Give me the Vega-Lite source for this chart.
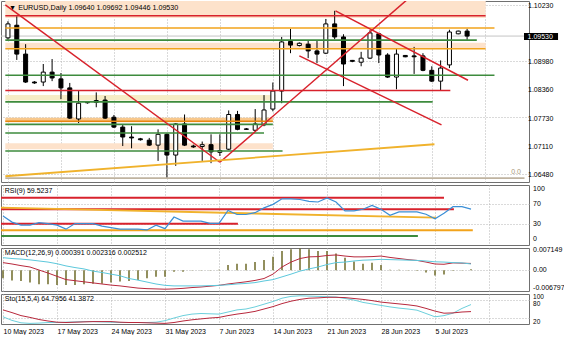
{
"$schema":"https://vega.github.io/schema/vega-lite/v6.json",
"background":"white",
"padding":0,
"spacing":3,
"bounds":"flush",
"config":{"view":{"stroke":"#707070","strokeWidth":1},"axis":{"labelFont":"Liberation Sans","labelFontSize":7,"labelColor":"#000000","gridColor":"#b4b4b4","gridDash":[1,2],"gridWidth":1},"text":{"font":"Liberation Sans","fontSize":7}},
"datasets":{
"candles":[
{"i":0,"o":1.0949,"h":1.0986,"l":1.0942,"c":1.0980},
{"i":1,"o":1.0977,"h":1.0997,"l":1.0900,"c":1.0913},
{"i":2,"o":1.0913,"h":1.0935,"l":1.0849,"c":1.0851},
{"i":3,"o":1.0851,"h":1.0853,"l":1.0847,"c":1.0849},
{"i":4,"o":1.0851,"h":1.0891,"l":1.0842,"c":1.0873},
{"i":5,"o":1.0873,"h":1.0902,"l":1.0853,"c":1.0860},
{"i":6,"o":1.0858,"h":1.0871,"l":1.0813,"c":1.0838},
{"i":7,"o":1.0838,"h":1.0849,"l":1.0769,"c":1.0771},
{"i":8,"o":1.0769,"h":1.0831,"l":1.0760,"c":1.0804},
{"i":9,"o":1.0805,"h":1.0807,"l":1.0803,"c":1.0806},
{"i":10,"o":1.0806,"h":1.0828,"l":1.0795,"c":1.0810},
{"i":11,"o":1.0811,"h":1.0820,"l":1.0769,"c":1.0771},
{"i":12,"o":1.0773,"h":1.0778,"l":1.0749,"c":1.0751},
{"i":13,"o":1.0751,"h":1.0756,"l":1.0709,"c":1.0729},
{"i":14,"o":1.0729,"h":1.0753,"l":1.0704,"c":1.0727},
{"i":15,"o":1.0725,"h":1.0727,"l":1.0721,"c":1.0723},
{"i":16,"o":1.0722,"h":1.0727,"l":1.0709,"c":1.0711},
{"i":17,"o":1.0711,"h":1.0746,"l":1.0676,"c":1.0735},
{"i":18,"o":1.0735,"h":1.0737,"l":1.0638,"c":1.0689},
{"i":19,"o":1.0689,"h":1.0760,"l":1.0665,"c":1.0758},
{"i":20,"o":1.0758,"h":1.0779,"l":1.0709,"c":1.0711},
{"i":21,"o":1.0709,"h":1.0712,"l":1.0705,"c":1.0707},
{"i":22,"o":1.0708,"h":1.0719,"l":1.0676,"c":1.0712},
{"i":23,"o":1.0712,"h":1.0735,"l":1.0671,"c":1.0696},
{"i":24,"o":1.0695,"h":1.0735,"l":1.0687,"c":1.0699},
{"i":25,"o":1.0702,"h":1.0788,"l":1.0700,"c":1.0779},
{"i":26,"o":1.0779,"h":1.0787,"l":1.0744,"c":1.0746},
{"i":27,"o":1.0747,"h":1.0749,"l":1.0745,"c":1.0746},
{"i":28,"o":1.0744,"h":1.0791,"l":1.0740,"c":1.0758},
{"i":29,"o":1.0756,"h":1.0822,"l":1.0753,"c":1.0789},
{"i":30,"o":1.0791,"h":1.0850,"l":1.0786,"c":1.0831},
{"i":31,"o":1.0831,"h":1.0951,"l":1.0804,"c":1.0940},
{"i":32,"o":1.0941,"h":1.0969,"l":1.0915,"c":1.0933},
{"i":33,"o":1.0932,"h":1.0939,"l":1.0930,"c":1.0937},
{"i":34,"o":1.0935,"h":1.0944,"l":1.0904,"c":1.0920},
{"i":35,"o":1.0920,"h":1.0944,"l":1.0893,"c":1.0913},
{"i":36,"o":1.0915,"h":1.0991,"l":1.0913,"c":1.0980},
{"i":37,"o":1.0980,"h":1.1009,"l":1.0946,"c":1.0951},
{"i":38,"o":1.0951,"h":1.0957,"l":1.0842,"c":1.0891},
{"i":39,"o":1.0899,"h":1.0900,"l":1.0895,"c":1.0897},
{"i":40,"o":1.0895,"h":1.0918,"l":1.0886,"c":1.0904},
{"i":41,"o":1.0904,"h":1.0966,"l":1.0902,"c":1.0960},
{"i":42,"o":1.0958,"h":1.0960,"l":1.0893,"c":1.0911},
{"i":43,"o":1.0911,"h":1.0915,"l":1.0860,"c":1.0862},
{"i":44,"o":1.0862,"h":1.0926,"l":1.0835,"c":1.0913},
{"i":45,"o":1.0910,"h":1.0911,"l":1.0906,"c":1.0907},
{"i":46,"o":1.0909,"h":1.0929,"l":1.0869,"c":1.0907},
{"i":47,"o":1.0909,"h":1.0915,"l":1.0875,"c":1.0877},
{"i":48,"o":1.0877,"h":1.0886,"l":1.0851,"c":1.0853},
{"i":49,"o":1.0853,"h":1.0899,"l":1.0833,"c":1.0882},
{"i":50,"o":1.0889,"h":1.0967,"l":1.0882,"c":1.0962},
{"i":51,"o":1.0958,"h":1.0965,"l":1.0957,"c":1.0964},
{"i":52,"o":1.0964,"h":1.09692,"l":1.09446,"c":1.0953}
],
"hlines":[
{"x1":-0.3,"x2":54.1,"y":1.0998,"kind":"red"},
{"x1":-0.3,"x2":55.1,"y":1.0971,"kind":"orange"},
{"x1":-0.3,"x2":53.1,"y":1.0944,"kind":"green"},
{"x1":-0.3,"x2":54.1,"y":1.0925,"kind":"orange"},
{"x1":-0.3,"x2":55.1,"y":1.0866,"kind":"green"},
{"x1":-0.3,"x2":50.1,"y":1.0832,"kind":"red"},
{"x1":-0.3,"x2":48.1,"y":1.0807,"kind":"green"},
{"x1":-0.3,"x2":30,"y":1.0764,"kind":"darkorange"},
{"x1":-0.3,"x2":30,"y":1.0757,"kind":"green"},
{"x1":-0.3,"x2":29,"y":1.0738,"kind":"green"},
{"x1":-0.3,"x2":31.1,"y":1.0698,"kind":"green"},
{"x1":-0.3,"x2":58.5,"y":1.0638,"kind":"fibo"}
],
"bands":[
{"x1":-0.3,"x2":54.1,"y1":1.1040,"y2":1.0993,"kind":"peach"},
{"x1":-0.3,"x2":54.1,"y1":1.0938,"y2":1.0926,"kind":"peach"},
{"x1":-0.3,"x2":30.3,"y1":1.0822,"y2":1.0810,"kind":"beige"},
{"x1":-0.3,"x2":30,"y1":1.0772,"y2":1.0762,"kind":"lightorange"},
{"x1":-0.3,"x2":30,"y1":1.0715,"y2":1.0702,"kind":"peach"}
],
"tlines":[
{"x1":-0.3,"y1":1.1022,"x2":24,"y2":1.0673,"kind":"red"},
{"x1":24,"y1":1.0673,"x2":45.4,"y2":1.1037,"kind":"red"},
{"x1":37.1,"y1":1.1009,"x2":52.1,"y2":1.0855,"kind":"red"},
{"x1":33,"y1":1.0909,"x2":49.1,"y2":1.0756,"kind":"red"},
{"x1":-0.3,"y1":1.0642,"x2":48.3,"y2":1.0713,"kind":"yellow"}
],
"rsilevels":[
{"x1":-0.3,"x2":49,"y1":82,"y2":82,"kind":"coral"},
{"x1":-0.3,"x2":50.1,"y1":59.3,"y2":59.3,"kind":"coral"},
{"x1":-0.3,"x2":48.1,"y1":62.5,"y2":42.8,"kind":"yellow"},
{"x1":-0.3,"x2":26.1,"y1":30.8,"y2":30.8,"kind":"coral"},
{"x1":-0.3,"x2":52.2,"y1":17.8,"y2":17.8,"kind":"tan"},
{"x1":-0.3,"x2":46.1,"y1":6.5,"y2":6.5,"kind":"purple"}
],
"ind":[
{"i":0,"rsi":46,"h":-0.0029,"m":0.0028,"s":0.0046,"k":24,"d":47},
{"i":1,"rsi":34,"h":-0.0037,"m":0.0023,"s":0.0043,"k":12,"d":38},
{"i":2,"rsi":28,"h":-0.0039,"m":0.0017,"s":0.0041,"k":4,"d":28},
{"i":3,"rsi":28,"h":-0.0045,"m":0.0012,"s":0.0038,"k":2,"d":22},
{"i":4,"rsi":33,"h":-0.0051,"m":0.0001,"s":0.0034,"k":3,"d":15},
{"i":5,"rsi":31,"h":-0.0051,"m":-0.0010,"s":0.0030,"k":5,"d":10},
{"i":6,"rsi":28,"h":-0.0054,"m":-0.0022,"s":0.0024,"k":5,"d":6},
{"i":7,"rsi":20,"h":-0.0054,"m":-0.0034,"s":0.0016,"k":6,"d":5},
{"i":8,"rsi":31,"h":-0.0054,"m":-0.0038,"s":0.0010,"k":7,"d":6},
{"i":9,"rsi":31,"h":-0.0051,"m":-0.0042,"s":0.0005,"k":8,"d":7},
{"i":10,"rsi":31,"h":-0.0049,"m":-0.0046,"s":-0.0003,"k":8,"d":8},
{"i":11,"rsi":26,"h":-0.0049,"m":-0.0050,"s":-0.0008,"k":7,"d":8},
{"i":12,"rsi":23,"h":-0.0045,"m":-0.0054,"s":-0.0014,"k":6,"d":8},
{"i":13,"rsi":20,"h":-0.0041,"m":-0.0057,"s":-0.0020,"k":5,"d":6},
{"i":14,"rsi":20,"h":-0.0039,"m":-0.0061,"s":-0.0030,"k":5,"d":5},
{"i":15,"rsi":20,"h":-0.0035,"m":-0.0065,"s":-0.0036,"k":5,"d":5},
{"i":16,"rsi":18.5,"h":-0.0029,"m":-0.0067,"s":-0.0043,"k":5,"d":4},
{"i":17,"rsi":28,"h":-0.0024,"m":-0.0068,"s":-0.0050,"k":6,"d":3},
{"i":18,"rsi":21,"h":-0.0024,"m":-0.0069,"s":-0.0055,"k":11,"d":2},
{"i":19,"rsi":44,"h":-0.0005,"m":-0.0068,"s":-0.0057,"k":20,"d":5},
{"i":20,"rsi":36,"h":-0.0005,"m":-0.0066,"s":-0.0057,"k":28,"d":10},
{"i":21,"rsi":36,"h":-0.0001,"m":-0.0063,"s":-0.0057,"k":33,"d":14},
{"i":22,"rsi":36,"h":-0.0001,"m":-0.0061,"s":-0.0057,"k":35,"d":17},
{"i":23,"rsi":31.5,"h":0.0001,"m":-0.0058,"s":-0.0056,"k":34,"d":20},
{"i":24,"rsi":31.5,"h":0.0002,"m":-0.0055,"s":-0.0055,"k":33,"d":22},
{"i":25,"rsi":57,"h":0.0019,"m":-0.0050,"s":-0.0053,"k":40,"d":28},
{"i":26,"rsi":49,"h":0.0024,"m":-0.0046,"s":-0.0050,"k":47,"d":33},
{"i":27,"rsi":49,"h":0.0024,"m":-0.0042,"s":-0.0048,"k":50,"d":37},
{"i":28,"rsi":52.6,"h":0.0030,"m":-0.0037,"s":-0.0045,"k":57,"d":42},
{"i":29,"rsi":62,"h":0.0038,"m":-0.0030,"s":-0.0039,"k":66,"d":50},
{"i":30,"rsi":69,"h":0.0049,"m":-0.0014,"s":-0.0034,"k":75,"d":58},
{"i":31,"rsi":80,"h":0.0070,"m":0.0012,"s":-0.0024,"k":86,"d":68},
{"i":32,"rsi":80,"h":0.0077,"m":0.0030,"s":-0.0014,"k":92,"d":76},
{"i":33,"rsi":78.6,"h":0.0080,"m":0.0043,"s":-0.0003,"k":94,"d":82},
{"i":34,"rsi":75,"h":0.0077,"m":0.0049,"s":0.0005,"k":93,"d":86},
{"i":35,"rsi":73.7,"h":0.0070,"m":0.0050,"s":0.0012,"k":92,"d":87},
{"i":36,"rsi":81.6,"h":0.0070,"m":0.0054,"s":0.0021,"k":91,"d":89},
{"i":37,"rsi":73.7,"h":0.0061,"m":0.0056,"s":0.0028,"k":90,"d":89},
{"i":38,"rsi":56,"h":0.0046,"m":0.0052,"s":0.0030,"k":85,"d":88},
{"i":39,"rsi":56,"h":0.0032,"m":0.0049,"s":0.0034,"k":80,"d":85},
{"i":40,"rsi":59.3,"h":0.0024,"m":0.0049,"s":0.0037,"k":72,"d":82},
{"i":41,"rsi":67,"h":0.0028,"m":0.0050,"s":0.0038,"k":67,"d":78},
{"i":42,"rsi":59.3,"h":0.0019,"m":0.0052,"s":0.0040,"k":62,"d":73},
{"i":43,"rsi":47.4,"h":0.0002,"m":0.0047,"s":0.0039,"k":57,"d":70},
{"i":44,"rsi":54,"h":0.0002,"m":0.0043,"s":0.0038,"k":53,"d":67},
{"i":45,"rsi":54,"h":0.0001,"m":0.0039,"s":0.0037,"k":50,"d":64},
{"i":46,"rsi":54,"h":-0.0002,"m":0.0036,"s":0.0036,"k":46,"d":60},
{"i":47,"rsi":49.4,"h":-0.0008,"m":0.0030,"s":0.0034,"k":35,"d":52},
{"i":48,"rsi":40.7,"h":-0.0019,"m":0.0023,"s":0.0031,"k":24,"d":43},
{"i":49,"rsi":51.4,"h":-0.0015,"m":0.0022,"s":0.0030,"k":28,"d":36},
{"i":50,"rsi":64.4,"h":-0.0002,"m":0.0027,"s":0.0028,"k":36,"d":37},
{"i":51,"rsi":64.4,"h":0.0001,"m":0.0026,"s":0.0027,"k":52,"d":40},
{"i":52,"rsi":59.5,"h":0.0004,"m":0.0025,"s":0.0023,"k":64.8,"d":41.4}
]
},
"vconcat":[
{
"width":528,"height":181,
"layer":[
{"data":{"name":"bands"},"mark":{"type":"rect","clip":true},
 "encoding":{
  "x":{"field":"x1","type":"quantitative","title":null,"scale":{"domain":[-0.222,58.444],"nice":false,"zero":false},"axis":{"values":[0,3,6,9,12,15,18,21,24,27,30,33,36,39,42,45,48,51,54,57],"grid":true,"labels":false,"ticks":false,"domain":false,"title":null}},
  "x2":{"field":"x2"},
  "y":{"field":"y1","type":"quantitative","title":null,"scale":{"domain":[1.06292,1.10308],"nice":false,"zero":false},"axis":{"orient":"right","values":[1.0648,1.0711,1.0773,1.0836,1.0898,1.096,1.1023],"grid":true,"labels":false,"ticks":false,"domain":false,"title":null}},
  "y2":{"field":"y2"},
  "color":{"field":"kind","type":"nominal","legend":null,"scale":{"domain":["red","orange","green","darkorange","fibo","peach","beige","lightorange","yellow"],"range":["#d8222c","#f2a31b","#3d8b3d","#e8860f","#bfb3a0","#fde2cb","#f6ecc6","#f8c88c","#f0b22c"]}}
 }},
{"data":{"values":[{}]},"mark":{"type":"rule","color":"#c4c4c4","strokeWidth":1},
 "encoding":{"y":{"datum":1.0953}}},
{"data":{"name":"candles"},"mark":{"type":"rule","color":"#000000","strokeWidth":1},
 "encoding":{"x":{"field":"i","type":"quantitative","title":null},"y":{"field":"l","type":"quantitative","title":null},"y2":{"field":"h"}}},
{"data":{"name":"candles"},"mark":{"type":"bar","size":4,"stroke":"#000000","strokeWidth":1},
 "encoding":{"x":{"field":"i","type":"quantitative","title":null},"y":{"field":"o","type":"quantitative","title":null},"y2":{"field":"c"},
  "fill":{"condition":{"test":"datum.c < datum.o","value":"#000000"},"value":"#ffffff"}}},
{"data":{"name":"hlines"},"mark":{"type":"rule","clip":true},
 "encoding":{"x":{"field":"x1","type":"quantitative","title":null},"x2":{"field":"x2"},"y":{"field":"y","type":"quantitative","title":null},
  "color":{"field":"kind","type":"nominal","legend":null,"scale":{"domain":["red","orange","green","darkorange","fibo","peach","beige","lightorange","yellow"],"range":["#d8222c","#f2a31b","#3d8b3d","#e8860f","#bfb3a0","#fde2cb","#f6ecc6","#f8c88c","#f0b22c"]}},
  "strokeWidth":{"field":"kind","type":"ordinal","legend":null,"scale":{"domain":["red","orange","green","darkorange","fibo","yellow"],"range":[1.5,2,1.2,3.5,1.5,2]}}}},
{"data":{"name":"tlines"},"mark":{"type":"rule","clip":true},
 "encoding":{"x":{"field":"x1","type":"quantitative","title":null},"x2":{"field":"x2"},"y":{"field":"y1","type":"quantitative","title":null},"y2":{"field":"y2"},
  "color":{"field":"kind","type":"nominal","legend":null,"scale":{"domain":["red","orange","green","darkorange","fibo","peach","beige","lightorange","yellow"],"range":["#d8222c","#f2a31b","#3d8b3d","#e8860f","#bfb3a0","#fde2cb","#f6ecc6","#f8c88c","#f0b22c"]}},
  "strokeWidth":{"field":"kind","type":"ordinal","legend":null,"scale":{"domain":["red","orange","green","darkorange","fibo","yellow"],"range":[1.5,2,1.2,3.5,1.5,2]}}}},
{"data":{"values":[{"t":"▼ EURUSD,Daily  1.09640 1.09692 1.09446 1.09530"}]},"mark":{"type":"text","align":"left","baseline":"middle","fontSize":7.2,"color":"#000000"},
 "encoding":{"x":{"datum":0.12},"y":{"datum":1.1016},"text":{"field":"t"}}},
{"data":{"values":[{"t":"0.0"}]},"mark":{"type":"text","align":"right","baseline":"middle","fontSize":7,"color":"#a89878"},
 "encoding":{"x":{"datum":58.1},"y":{"datum":1.0652},"text":{"field":"t"}}},
{"data":{"values":[{"v":1.0648},{"v":1.0711},{"v":1.0773},{"v":1.0836},{"v":1.0898},{"v":1.1023}]},"mark":{"type":"text","align":"left","baseline":"middle","fontSize":7,"color":"#000000","clip":false,"dy":1.5},
 "encoding":{"x":{"datum":58.9},"y":{"field":"v","type":"quantitative","title":null},"text":{"field":"v","type":"quantitative","format":".5f"}}},
{"data":{"values":[{}]},"mark":{"type":"rect","color":"#000000","clip":false},
 "encoding":{"x":{"datum":58.444},"x2":{"datum":62.3},"y":{"datum":1.0960},"y2":{"datum":1.0944}}},
{"data":{"values":[{"t":"1.09530"}]},"mark":{"type":"text","align":"left","baseline":"middle","fontSize":7,"color":"#ffffff","clip":false},
 "encoding":{"x":{"datum":58.85},"y":{"datum":1.0952},"text":{"field":"t"}}}
]
},
{
"width":528,"height":60,
"layer":[
{"data":{"name":"rsilevels"},"mark":{"type":"rule","clip":true},
 "encoding":{
  "x":{"field":"x1","type":"quantitative","title":null,"scale":{"domain":[-0.222,58.444],"nice":false,"zero":false},"axis":{"values":[0,3,6,9,12,15,18,21,24,27,30,33,36,39,42,45,48,51,54,57],"grid":true,"labels":false,"ticks":false,"domain":false,"title":null}},
  "x2":{"field":"x2"},
  "y":{"field":"y1","type":"quantitative","title":null,"scale":{"domain":[-11.3,107.3],"nice":false,"zero":false},"axis":{"orient":"right","values":[30,70],"grid":true,"labels":false,"ticks":false,"domain":false,"title":null}},
  "y2":{"field":"y2"},
  "color":{"field":"kind","type":"nominal","legend":null,"scale":{"domain":["coral","yellow","tan","purple"],"range":["#e5603a","#f2b42e","#d8906a","#9a2db5"]}},
  "strokeWidth":{"field":"kind","type":"ordinal","legend":null,"scale":{"domain":["coral","yellow","tan","purple"],"range":[1.5,2.5,1.5,1.5]}}
 }},
{"data":{"name":"ind"},"mark":{"type":"line","color":"#3b8fd6","strokeWidth":1.2},
 "encoding":{"x":{"field":"i","type":"quantitative","title":null},"y":{"field":"rsi","type":"quantitative","title":null}}},
{"data":{"values":[{"t":"RSI(9) 59.5237"}]},"mark":{"type":"text","align":"left","baseline":"middle","fontSize":7,"color":"#000000"},
 "encoding":{"x":{"datum":0.2},"y":{"datum":95.5},"text":{"field":"t"}}},
{"data":{"values":[{"v":0},{"v":30},{"v":70},{"v":100}]},"mark":{"type":"text","align":"left","baseline":"middle","fontSize":7,"color":"#000000","clip":false},
 "encoding":{"x":{"datum":58.9},"y":{"field":"v","type":"quantitative","title":null},"text":{"field":"v","type":"quantitative","format":"d"}}}
]
},
{
"width":528,"height":43,
"layer":[
{"data":{"name":"ind"},"mark":{"type":"rule","color":"#6e6a28","strokeWidth":1.5},
 "encoding":{
  "x":{"field":"i","type":"quantitative","title":null,"scale":{"domain":[-0.222,58.444],"nice":false,"zero":false},"axis":{"values":[0,3,6,9,12,15,18,21,24,27,30,33,36,39,42,45,48,51,54,57],"grid":true,"labels":false,"ticks":false,"domain":false,"title":null}},
  "y":{"field":"h","type":"quantitative","title":null,"scale":{"domain":[-0.00756,0.00814],"nice":false,"zero":false},"axis":{"orient":"right","values":[0],"grid":true,"labels":false,"ticks":false,"domain":false,"title":null}},
  "y2":{"datum":0}
 }},
{"data":{"name":"ind"},"mark":{"type":"line","color":"#b8283c","strokeWidth":1},
 "encoding":{"x":{"field":"i","type":"quantitative","title":null},"y":{"field":"m","type":"quantitative","title":null}}},
{"data":{"name":"ind"},"mark":{"type":"line","color":"#5cc8dc","strokeWidth":1},
 "encoding":{"x":{"field":"i","type":"quantitative","title":null},"y":{"field":"s","type":"quantitative","title":null}}},
{"data":{"values":[{"t":"MACD(12,26,9) 0.000391 0.002316 0.002512"}]},"mark":{"type":"text","align":"left","baseline":"middle","fontSize":7,"color":"#000000"},
 "encoding":{"x":{"datum":0.2},"y":{"datum":0.0063},"text":{"field":"t"}}},
{"data":{"values":[{"v":0.007149,"t":"0.007149"},{"v":0,"t":"0.00"},{"v":-0.006797,"t":"-0.006797"}]},"mark":{"type":"text","align":"left","baseline":"middle","fontSize":7,"color":"#000000","clip":false,"dy":-0.5},
 "encoding":{"x":{"datum":58.9},"y":{"field":"v","type":"quantitative","title":null},"text":{"field":"t"}}}
]
},
{
"width":528,"height":30,
"layer":[
{"data":{"name":"ind"},"mark":{"type":"line","color":"#6cd0dc","strokeWidth":1},
 "encoding":{
  "x":{"field":"i","type":"quantitative","title":null,"scale":{"domain":[-0.222,58.444],"nice":false,"zero":false},"axis":{"values":[0,3,6,9,12,15,18,21,24,27,30,33,36,39,42,45,48,51,54,57],"grid":true,"ticks":false,"domain":false,"labelExpr":"datum.value % 6 == 0 && datum.value <= 48 ? ['10 May 2023','17 May 2023','24 May 2023','31 May 2023','7 Jun 2023','14 Jun 2023','21 Jun 2023','28 Jun 2023','5 Jul 2023'][datum.value/6] : ''","labelAlign":"left","labelFlush":false,"labelOverlap":false,"labelBound":false,"labelPadding":3,"title":null}},
  "y":{"field":"k","type":"quantitative","title":null,"scale":{"domain":[0,100],"nice":false,"zero":false},"axis":{"orient":"right","values":[20,80],"grid":true,"labels":false,"ticks":false,"domain":false,"title":null}}
 }},
{"data":{"name":"ind"},"mark":{"type":"line","color":"#b8283c","strokeWidth":1},
 "encoding":{"x":{"field":"i","type":"quantitative","title":null},"y":{"field":"d","type":"quantitative","title":null}}},
{"data":{"values":[{"t":"Sto(15,5,4) 64.7956 41.3872"}]},"mark":{"type":"text","align":"left","baseline":"middle","fontSize":7,"color":"#000000"},
 "encoding":{"x":{"datum":0.2},"y":{"datum":83},"text":{"field":"t"}}},
{"data":{"values":[{"v":100}]},"mark":{"type":"text","align":"left","baseline":"top","fontSize":6.5,"color":"#000000","clip":false,"dy":0},
 "encoding":{"x":{"datum":58.9},"y":{"field":"v","type":"quantitative","title":null},"text":{"field":"v","type":"quantitative","format":"d"}}},
{"data":{"values":[{"v":80},{"v":20}]},"mark":{"type":"text","align":"left","baseline":"middle","fontSize":6.5,"color":"#000000","clip":false,"dy":3.5},
 "encoding":{"x":{"datum":58.9},"y":{"field":"v","type":"quantitative","title":null},"text":{"field":"v","type":"quantitative","format":"d"}}}
]
}
]
}
